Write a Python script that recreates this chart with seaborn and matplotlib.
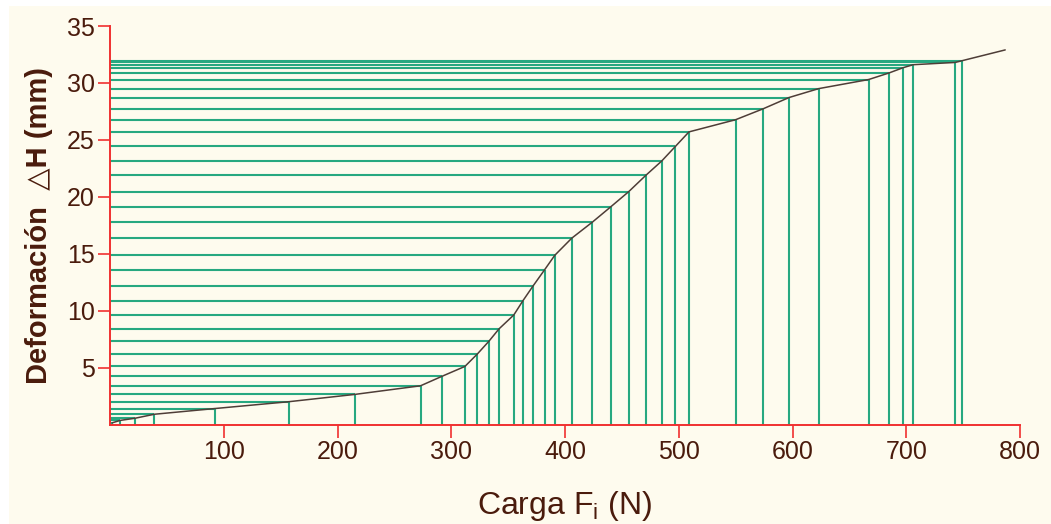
import matplotlib
matplotlib.use("Agg")
import matplotlib.pyplot as plt
import numpy as np
import pandas as pd
import seaborn as sns
from matplotlib.patches import Rectangle

# load values (F in N, deformation in mm)
carga = [2, 9, 22, 39, 92, 157, 215, 273, 292, 312, 323, 333, 342, 355, 363,
         372, 382, 391, 406, 424, 440, 456, 471, 485, 497, 509, 550, 574, 597,
         623, 667, 685, 697, 706, 743, 749, 787]
deformacion = [0.15, 0.36, 0.55, 0.9, 1.4, 2.0, 2.64, 3.4, 4.24, 5.1, 6.2, 7.3,
               8.4, 9.62, 10.87, 12.18, 13.58, 14.86, 16.37, 17.77, 19.1, 20.45,
               21.88, 23.14, 24.42, 25.7, 26.77, 27.72, 28.72, 29.5, 30.3, 30.88,
               31.33, 31.6, 31.8, 31.95, 32.9]
x_ticks = [100, 200, 300, 400, 500, 600, 700, 800]
y_ticks = [5, 10, 15, 20, 25, 30, 35]

df = pd.DataFrame({"F": carga, "H": deformacion})

sns.set_theme(style="white")
plt.rcParams["font.family"] = ["Liberation Sans", "DejaVu Sans"]

cream = "#FEFBEE"
brown = "#4A1B0C"
red = "#F03030"
green = "#27A880"

fig = plt.figure(figsize=(10.51, 5.24), dpi=100, facecolor="white")
fig.patches.append(Rectangle((9 / 1051, 0), 1, 1 - 6 / 524, transform=fig.transFigure,
                             facecolor=cream, edgecolor="none", zorder=-10))
ax = fig.add_axes([110 / 1051, 1 - 424.5 / 524, 910 / 1051, (424.5 - 26) / 524])
ax.set_facecolor(cream)

# drop lines to both axes (all points except the last one)
drops = df.iloc[:-1]
ax.hlines(drops["H"], 0, drops["F"], color=green, lw=1.5, zorder=2)
ax.vlines(drops["F"], 0, drops["H"], color=green, lw=1.5, zorder=2)

# load-deformation curve
sns.lineplot(data=df, x="F", y="H", ax=ax, color="#4E3D37", lw=1.1, zorder=3,
             sort=False)

ax.set_xlim(0, 800)
ax.set_ylim(0, 35)
ax.set_xticks(x_ticks)
ax.set_yticks(y_ticks)
ax.tick_params(axis="both", which="major", direction="out", length=9, width=1.2,
               color=red, labelcolor=brown, labelsize=18, pad=2,
               bottom=True, left=True)

for side in ["top", "right"]:
    ax.spines[side].set_visible(False)
for side in ["left", "bottom"]:
    ax.spines[side].set_color(red)
    ax.spines[side].set_linewidth(1.4)

ax.set_xlabel(r"Carga F$_\mathregular{i}$ (N)", fontsize=23, color=brown, labelpad=18)
ax.set_ylabel("Deformación  \u25b3H (mm)", fontsize=21, color=brown,
              fontweight="bold", labelpad=10)

fig.savefig("out.png", dpi=100, facecolor=fig.get_facecolor())
